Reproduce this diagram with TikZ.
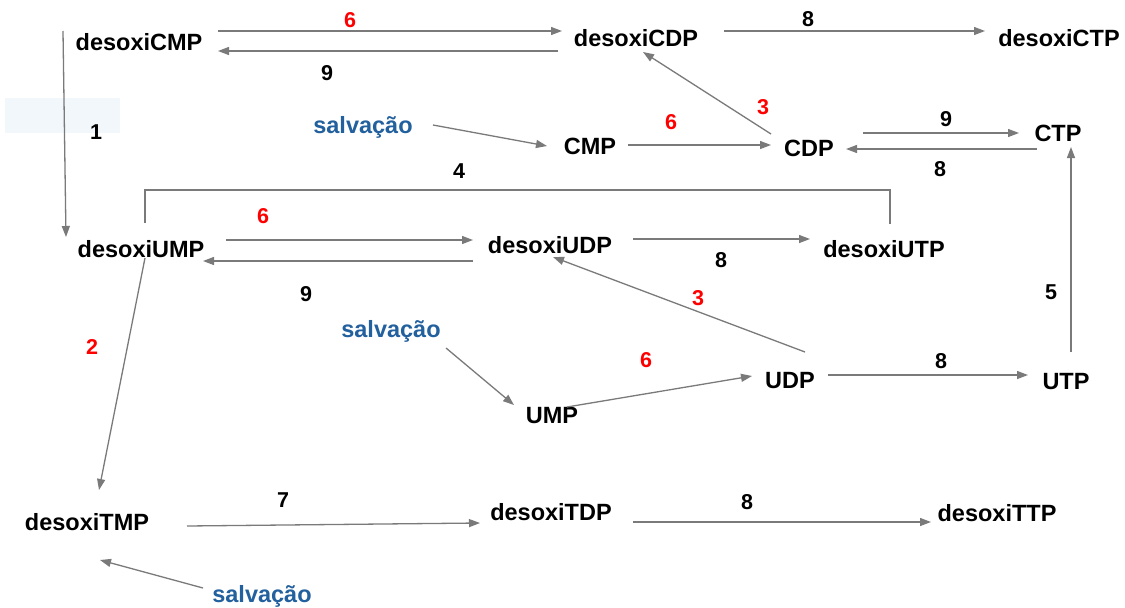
\documentclass[tikz,border=0pt]{standalone}
\usepackage{fontspec}
\setmainfont{Liberation Sans}
\usetikzlibrary{arrows.meta}
\definecolor{linegray}{HTML}{7A7A7A}
\definecolor{salvblue}{HTML}{22609E}
\definecolor{numred}{HTML}{FF0000}
\definecolor{paleblue}{HTML}{F2F7FC}
\begin{document}
\begin{tikzpicture}[x=1pt,y=-1pt,
  lbl/.style={font=\fontsize{23.5}{27}\selectfont\bfseries, inner sep=0pt, text=black},
  num/.style={font=\fontsize{21.5}{25}\selectfont\bfseries, inner sep=0pt, text=black},
  rnum/.style={num, text=numred},
  salv/.style={lbl, text=salvblue},
  arr/.style={draw=linegray, line width=1.3pt, -{Triangle[length=11pt,width=8pt]}},
  ln/.style={draw=linegray, line width=1.3pt}
]
\useasboundingbox (0,0) rectangle (1125,608);
\fill[white] (0,0) rectangle (1125,608);
\fill[paleblue] (5,98) rectangle (120,133);

% nodes
\node[lbl] (dCMP) at (139,42) {desoxiCMP};
\node[lbl] (dCDP) at (636,38) {desoxiCDP};
\node[lbl] (dCTP) at (1059,38) {desoxiCTP};
\node[salv] (s1) at (363,127) {salvação};
\node[lbl] (CMP) at (590,146) {CMP};
\node[lbl] (CDP) at (809,148) {CDP};
\node[lbl] (CTP) at (1058,133) {CTP};
\node[lbl] (dUMP) at (141,249) {desoxiUMP};
\node[lbl] (dUDP) at (550,245) {desoxiUDP};
\node[lbl] (dUTP) at (884,249) {desoxiUTP};
\node[salv] (s2) at (391,331) {salvação};
\node[lbl] (UMP) at (552,416) {UMP};
\node[lbl] (UDP) at (790,381) {UDP};
\node[lbl] (UTP) at (1066,382) {UTP};
\node[lbl] (dTMP) at (87,522) {desoxiTMP};
\node[lbl] (dTDP) at (551,512) {desoxiTDP};
\node[lbl] (dTTP) at (997,513) {desoxiTTP};
\node[salv] (s3) at (262,596) {salvação};

% connectors
\draw[arr] ([shift={(79,-11)}]dCMP.center) -- ([shift={(-74,-7)}]dCDP.center);
\draw[arr] ([shift={(-78,13)}]dCDP.center) -- ([shift={(79,9)}]dCMP.center);
\draw[arr] ([shift={(88,-7)}]dCDP.center) -- ([shift={(-74,-7)}]dCTP.center);
\draw[arr] ([shift={(-76,-11)}]dCMP.center) -- ([shift={(-75,-12)}]dUMP.center);
\draw[arr] ([shift={(70,-2)}]s1.center) -- ([shift={(-43,0)}]CMP.center);
\draw[arr] ([shift={(38,-1)}]CMP.center) -- ([shift={(-38,-3)}]CDP.center);
\draw[arr] ([shift={(-38,-14)}]CDP.center) -- ([shift={(7,14)}]dCDP.center);
\draw[arr] ([shift={(54,-15)}]CDP.center) -- ([shift={(-39,0)}]CTP.center);
\draw[arr] ([shift={(-21,16)}]CTP.center) -- ([shift={(37,1)}]CDP.center);
\draw[ln] ([shift={(4,-26)}]dUMP.center) -- ++(0,-33) -| ([shift={(6,-25)}]dUTP.center);
\draw[arr] ([shift={(85,-9)}]dUMP.center) -- ([shift={(-77,-5)}]dUDP.center);
\draw[arr] ([shift={(-77,16)}]dUDP.center) -- ([shift={(62,12)}]dUMP.center);
\draw[arr] ([shift={(83,-6)}]dUDP.center) -- ([shift={(-74,-10)}]dUTP.center);
\draw[arr] ([shift={(15,-29)}]UDP.center) -- ([shift={(3,12)}]dUDP.center);
\draw[arr] ([shift={(5,-30)}]UTP.center) -- ([shift={(13,14)}]CTP.center);
\draw[arr] ([shift={(4,9)}]dUMP.center) -- ([shift={(12,-32)}]dTMP.center);
\draw[arr] ([shift={(55,17)}]s2.center) -- ([shift={(-38,-11)}]UMP.center);
\draw[arr] ([shift={(15,-9)}]UMP.center) -- ([shift={(-38,-5)}]UDP.center);
\draw[arr] ([shift={(38,-6)}]UDP.center) -- ([shift={(-38,-7)}]UTP.center);
\draw[arr] ([shift={(100,4)}]dTMP.center) -- ([shift={(-71,11)}]dTDP.center);
\draw[arr] ([shift={(82,10)}]dTDP.center) -- ([shift={(-66,9)}]dTTP.center);
\draw[arr] ([shift={(-59,-8)}]s3.center) -- ([shift={(13,38)}]dTMP.center);

% enzyme labels
\node[rnum] (n6a) at (350,20) {6};
\node[num] (n9a) at (327,73) {9};
\node[num] (n8a) at (808,19) {8};
\node[num] (n1) at (96,132) {1};
\node[rnum] (n6b) at (671,122) {6};
\node[rnum] (n3a) at (763,107) {3};
\node[num] (n9b) at (946,119) {9};
\node[num] (n8b) at (940,169) {8};
\node[num] (n4) at (459,171) {4};
\node[rnum] (n6c) at (263,216) {6};
\node[num] (n9c) at (306,294) {9};
\node[num] (n8c) at (721,260) {8};
\node[rnum] (n3b) at (698,298) {3};
\node[num] (n5) at (1051,292) {5};
\node[rnum] (n2) at (92,347) {2};
\node[rnum] (n6d) at (646,360) {6};
\node[num] (n8d) at (941,361) {8};
\node[num] (n7) at (283,500) {7};
\node[num] (n8e) at (747,502) {8};
\end{tikzpicture}
\end{document}
